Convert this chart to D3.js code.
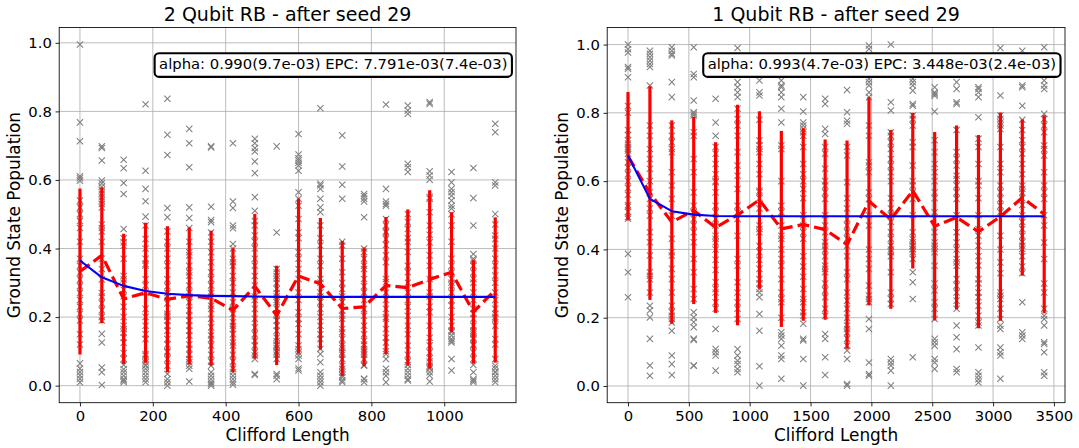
<!DOCTYPE html>
<html>
<head>
<meta charset="utf-8">
<script src="https://cdn.jsdelivr.net/npm/d3@7"></script>
<style>
body { margin: 0; background: #fff; }
svg text { font-family: "DejaVu Sans", sans-serif; fill: #000; }
</style>
</head>
<body>
<div id="chart"></div>
<script>
// ---- 2 qubit panel ----
var title2Q = "2 Qubit RB - after seed 29";
var label2Q = "alpha: 0.990(9.7e-03) EPC: 7.791e-03(7.4e-03)";
var lengths2Q = [0,60,120,180,240,300,360,420,480,540,600,660,720,780,840,900,960,1020,1080,1140];
var xticks2Q = [0,200,400,600,800,1000];
var mean2Q = [0.333,0.380,0.253,0.271,0.252,0.262,0.255,0.220,0.290,0.205,0.320,0.297,0.225,0.230,0.292,0.286,0.310,0.331,0.215,0.279];
var std2Q  = [0.242,0.198,0.190,0.204,0.213,0.200,0.197,0.181,0.211,0.145,0.226,0.192,0.197,0.173,0.200,0.228,0.260,0.175,0.151,0.212];
var fit2Q  = [0.365,0.316,0.291,0.276,0.268,0.264,0.262,0.261,0.260,0.259,0.259,0.259,0.259,0.259,0.259,0.259,0.259,0.259,0.259,0.259];
var seeds2Q = [
 [0.995,0.768,0.713,0.611,0.605,0.598,0.54,0.52,0.50,0.48,0.46,0.42,0.37,0.35,0.33,0.31,0.29,0.27,0.25,0.23,0.21,0.19,0.15,0.12,0.065,0.05,0.04,0.03,0.02,0.01],
 [0.698,0.693,0.657,0.598,0.59,0.58,0.57,0.56,0.55,0.54,0.53,0.52,0.47,0.46,0.45,0.42,0.37,0.34,0.31,0.27,0.26,0.24,0.22,0.20,0.19,0.151,0.126,0.053,0.039,0.002],
 [0.659,0.634,0.591,0.559,0.457,0.43,0.418,0.408,0.37,0.32,0.31,0.30,0.28,0.26,0.23,0.2,0.175,0.165,0.155,0.14,0.125,0.095,0.078,0.06,0.048,0.039,0.029,0.019,0.015,0.01],
 [0.821,0.627,0.574,0.538,0.493,0.467,0.428,0.4,0.37,0.355,0.35,0.31,0.292,0.272,0.224,0.2,0.175,0.15,0.136,0.092,0.087,0.078,0.068,0.06,0.058,0.049,0.039,0.029,0.019,0.01],
 [0.837,0.732,0.673,0.518,0.491,0.45,0.42,0.40,0.37,0.35,0.31,0.29,0.27,0.24,0.21,0.204,0.2,0.19,0.175,0.16,0.136,0.12,0.1,0.097,0.078,0.058,0.034,0.019,0.01,0.0],
 [0.749,0.707,0.637,0.52,0.489,0.46,0.42,0.389,0.38,0.35,0.33,0.321,0.292,0.272,0.26,0.243,0.22,0.204,0.19,0.175,0.16,0.146,0.12,0.107,0.09,0.078,0.068,0.058,0.049,0.012],
 [0.698,0.695,0.522,0.483,0.477,0.447,0.42,0.389,0.36,0.331,0.311,0.292,0.27,0.26,0.233,0.224,0.195,0.17,0.146,0.136,0.117,0.09,0.07,0.058,0.039,0.029,0.019,0.01,0.005,0.0],
 [0.707,0.537,0.518,0.467,0.459,0.413,0.4,0.37,0.36,0.35,0.32,0.30,0.272,0.243,0.224,0.21,0.185,0.175,0.165,0.15,0.126,0.117,0.09,0.07,0.049,0.039,0.029,0.019,0.01,0.003],
 [0.72,0.707,0.693,0.683,0.654,0.62,0.55,0.51,0.48,0.467,0.438,0.42,0.40,0.37,0.35,0.32,0.292,0.26,0.25,0.224,0.195,0.17,0.15,0.13,0.117,0.097,0.088,0.078,0.034,0.031],
 [0.698,0.447,0.34,0.33,0.32,0.311,0.3,0.282,0.27,0.26,0.25,0.243,0.224,0.21,0.204,0.19,0.175,0.16,0.14,0.13,0.12,0.117,0.11,0.1,0.097,0.09,0.078,0.034,0.029,0.019],
 [0.734,0.674,0.663,0.657,0.65,0.642,0.627,0.564,0.545,0.525,0.486,0.447,0.43,0.389,0.37,0.34,0.311,0.272,0.25,0.214,0.195,0.18,0.15,0.117,0.107,0.097,0.088,0.078,0.05,0.044],
 [0.809,0.589,0.584,0.574,0.545,0.52,0.506,0.467,0.43,0.409,0.37,0.35,0.311,0.3,0.272,0.26,0.243,0.224,0.2,0.175,0.15,0.136,0.107,0.092,0.068,0.039,0.029,0.019,0.01,0.0],
 [0.73,0.639,0.586,0.545,0.42,0.409,0.37,0.331,0.3,0.282,0.26,0.243,0.22,0.204,0.195,0.165,0.156,0.136,0.117,0.11,0.097,0.09,0.078,0.058,0.049,0.039,0.03,0.024,0.015,0.01],
 [0.559,0.553,0.545,0.537,0.491,0.40,0.39,0.37,0.35,0.34,0.311,0.29,0.272,0.25,0.224,0.204,0.175,0.15,0.13,0.12,0.107,0.1,0.097,0.09,0.078,0.06,0.058,0.02,0.019,0.01],
 [0.82,0.574,0.537,0.53,0.525,0.486,0.467,0.45,0.447,0.428,0.41,0.38,0.36,0.311,0.302,0.272,0.25,0.224,0.2,0.195,0.165,0.14,0.126,0.1,0.092,0.078,0.049,0.039,0.029,0.01],
 [0.817,0.803,0.793,0.647,0.637,0.623,0.5,0.477,0.457,0.43,0.42,0.39,0.35,0.331,0.3,0.272,0.25,0.23,0.204,0.175,0.15,0.117,0.09,0.07,0.06,0.049,0.039,0.029,0.019,0.015],
 [0.827,0.822,0.625,0.613,0.601,0.55,0.545,0.506,0.467,0.44,0.418,0.38,0.35,0.311,0.272,0.26,0.23,0.214,0.175,0.14,0.117,0.097,0.08,0.07,0.058,0.053,0.049,0.039,0.03,0.012],
 [0.623,0.593,0.574,0.564,0.554,0.54,0.525,0.517,0.5,0.467,0.42,0.37,0.35,0.33,0.311,0.3,0.292,0.272,0.25,0.233,0.2,0.175,0.16,0.156,0.146,0.136,0.13,0.126,0.078,0.044],
 [0.635,0.547,0.467,0.384,0.37,0.365,0.35,0.33,0.311,0.3,0.272,0.25,0.224,0.21,0.195,0.175,0.16,0.156,0.15,0.14,0.136,0.12,0.117,0.097,0.078,0.06,0.039,0.019,0.015,0.01],
 [0.764,0.739,0.593,0.584,0.501,0.47,0.438,0.428,0.4,0.37,0.35,0.321,0.3,0.272,0.25,0.224,0.21,0.2,0.195,0.175,0.136,0.12,0.078,0.058,0.05,0.04,0.039,0.029,0.019,0.01]
];

// ---- 1 qubit panel ----
var title1Q = "1 Qubit RB - after seed 29";
var label1Q = "alpha: 0.993(4.7e-03) EPC: 3.448e-03(2.4e-03)";
var lengths1Q = [0,180,360,540,720,900,1080,1260,1440,1620,1800,1980,2160,2340,2520,2700,2880,3060,3240,3420];
var xticks1Q = [0,500,1000,1500,2000,2500,3000,3500];
var mean1Q = [0.673,0.565,0.480,0.514,0.464,0.501,0.545,0.460,0.473,0.458,0.414,0.541,0.488,0.572,0.468,0.494,0.452,0.496,0.552,0.503];
var std1Q  = [0.188,0.313,0.298,0.274,0.250,0.323,0.260,0.287,0.282,0.264,0.305,0.305,0.262,0.228,0.276,0.269,0.283,0.305,0.229,0.290];
var fit1Q  = [0.675,0.548,0.512,0.502,0.498,0.497,0.497,0.497,0.497,0.497,0.497,0.497,0.497,0.497,0.497,0.497,0.497,0.497,0.497,0.497];
var seeds1Q = [
 [1.0,0.986,0.977,0.934,0.929,0.904,0.82,0.80,0.75,0.735,0.72,0.71,0.70,0.695,0.69,0.68,0.655,0.64,0.62,0.60,0.58,0.56,0.53,0.525,0.51,0.495,0.49,0.387,0.333,0.26],
 [0.982,0.973,0.963,0.953,0.943,0.934,0.88,0.763,0.733,0.694,0.665,0.636,0.6,0.567,0.548,0.52,0.499,0.45,0.421,0.382,0.333,0.323,0.313,0.274,0.235,0.221,0.201,0.138,0.06,0.03],
 [0.992,0.982,0.973,0.968,0.89,0.846,0.763,0.733,0.714,0.694,0.685,0.626,0.587,0.548,0.499,0.431,0.392,0.382,0.343,0.313,0.274,0.235,0.216,0.206,0.196,0.186,0.162,0.089,0.064,0.032],
 [0.992,0.914,0.904,0.836,0.802,0.797,0.792,0.743,0.733,0.665,0.626,0.567,0.528,0.509,0.489,0.47,0.45,0.421,0.372,0.333,0.284,0.255,0.216,0.201,0.187,0.172,0.138,0.135,0.06,0.059],
 [0.841,0.772,0.733,0.7,0.68,0.65,0.62,0.6,0.597,0.567,0.528,0.509,0.489,0.47,0.44,0.431,0.421,0.4,0.37,0.34,0.304,0.284,0.274,0.245,0.226,0.167,0.108,0.099,0.089,0.045],
 [0.99,0.89,0.875,0.86,0.846,0.812,0.782,0.763,0.733,0.685,0.646,0.616,0.577,0.528,0.509,0.489,0.44,0.372,0.352,0.304,0.274,0.245,0.226,0.196,0.108,0.089,0.074,0.064,0.05,0.04],
 [0.895,0.86,0.851,0.78,0.719,0.704,0.694,0.685,0.65,0.62,0.572,0.567,0.55,0.52,0.47,0.46,0.45,0.41,0.392,0.37,0.343,0.313,0.3,0.284,0.274,0.26,0.211,0.162,0.058,0.001],
 [0.895,0.88,0.875,0.86,0.846,0.812,0.772,0.704,0.694,0.6,0.528,0.509,0.47,0.44,0.431,0.4,0.372,0.352,0.313,0.274,0.255,0.245,0.2,0.157,0.148,0.138,0.118,0.089,0.079,0.021],
 [0.846,0.804,0.772,0.763,0.753,0.743,0.733,0.7,0.65,0.62,0.6,0.577,0.55,0.5,0.47,0.45,0.431,0.38,0.35,0.32,0.284,0.255,0.245,0.216,0.206,0.182,0.138,0.133,0.079,0.001],
 [0.841,0.826,0.753,0.738,0.7,0.68,0.636,0.6,0.587,0.567,0.548,0.5,0.47,0.45,0.421,0.411,0.4,0.38,0.352,0.343,0.333,0.3,0.28,0.26,0.226,0.206,0.152,0.138,0.084,0.032],
 [0.867,0.802,0.777,0.768,0.7,0.675,0.597,0.55,0.52,0.489,0.47,0.45,0.431,0.411,0.38,0.333,0.313,0.274,0.25,0.226,0.2,0.177,0.167,0.157,0.138,0.118,0.104,0.079,0.006,0.001],
 [0.997,0.987,0.929,0.919,0.899,0.89,0.88,0.86,0.846,0.763,0.733,0.655,0.646,0.626,0.567,0.548,0.5,0.47,0.4,0.372,0.343,0.294,0.265,0.255,0.245,0.196,0.167,0.069,0.035,0.03],
 [1.0,0.831,0.807,0.743,0.733,0.714,0.694,0.665,0.646,0.626,0.6,0.55,0.52,0.5,0.48,0.45,0.431,0.411,0.4,0.392,0.38,0.333,0.274,0.255,0.24,0.079,0.069,0.06,0.045,0.001],
 [0.899,0.89,0.88,0.865,0.826,0.821,0.792,0.782,0.763,0.714,0.7,0.646,0.6,0.587,0.567,0.548,0.5,0.45,0.43,0.421,0.411,0.41,0.401,0.4,0.392,0.372,0.333,0.304,0.255,0.084],
 [0.875,0.86,0.855,0.85,0.804,0.72,0.685,0.65,0.626,0.6,0.567,0.55,0.509,0.45,0.42,0.411,0.401,0.392,0.352,0.3,0.28,0.245,0.226,0.196,0.138,0.128,0.118,0.079,0.069,0.05],
 [0.89,0.87,0.831,0.826,0.75,0.685,0.665,0.646,0.616,0.606,0.587,0.567,0.548,0.5,0.45,0.42,0.4,0.372,0.362,0.352,0.313,0.294,0.274,0.25,0.226,0.177,0.143,0.108,0.05,0.04],
 [0.875,0.87,0.86,0.846,0.787,0.724,0.7,0.65,0.6,0.587,0.55,0.5,0.46,0.44,0.411,0.38,0.353,0.313,0.3,0.274,0.26,0.235,0.206,0.186,0.177,0.113,0.04,0.03,0.02,0.01],
 [0.99,0.851,0.792,0.782,0.772,0.763,0.753,0.7,0.65,0.626,0.587,0.567,0.548,0.528,0.509,0.44,0.4,0.362,0.33,0.274,0.265,0.255,0.226,0.196,0.177,0.167,0.113,0.099,0.089,0.021],
 [0.982,0.88,0.875,0.821,0.78,0.75,0.72,0.7,0.68,0.65,0.62,0.587,0.577,0.567,0.55,0.53,0.5,0.48,0.46,0.44,0.421,0.411,0.401,0.38,0.35,0.33,0.245,0.157,0.148,0.138],
 [0.992,0.895,0.88,0.87,0.797,0.782,0.763,0.743,0.704,0.694,0.675,0.626,0.587,0.567,0.548,0.5,0.47,0.42,0.372,0.3,0.274,0.226,0.206,0.196,0.177,0.128,0.123,0.099,0.04,0.03]
];

var yticks = [0,0.2,0.4,0.6,0.8,1.0];

var width = 1079, height = 448;
var plotTop = 27.5, plotBottom = 402.7;
var tickFont = 14.8, labelFont = 16.9, titleFont = 19;

var svg = d3.select("#chart").append("svg")
	.attr("width", width)
	.attr("height", height);

// 5% margin like matplotlib autoscale
function padded(vals){
	var e = d3.extent(vals), m = (e[1]-e[0])*0.05;
	return [e[0]-m, e[1]+m];
}

function drawPanel(p){
	var x = d3.scaleLinear().domain(padded(p.lengths)).range([p.left, p.right]);
	var allY = d3.merge(p.seeds)
		.concat(p.mean.map(function(m,i){return m+p.std[i]}))
		.concat(p.mean.map(function(m,i){return m-p.std[i]}));
	var y = d3.scaleLinear().domain(padded(allY)).range([plotBottom, plotTop]);

	var g = svg.append("g");

	// grid
	g.selectAll(".gx").data(p.xticks).enter().append("line")
		.attr("x1", function(d){return x(d)}).attr("x2", function(d){return x(d)})
		.attr("y1", plotTop).attr("y2", plotBottom)
		.style("stroke", "#b0b0b0").style("stroke-width", 0.85);
	g.selectAll(".gy").data(yticks).enter().append("line")
		.attr("x1", p.left).attr("x2", p.right)
		.attr("y1", function(d){return y(d)}).attr("y2", function(d){return y(d)})
		.style("stroke", "#b0b0b0").style("stroke-width", 0.85);

	// seed points as x markers
	var pts = [];
	p.seeds.forEach(function(col, i){
		col.forEach(function(v){ pts.push([p.lengths[i], v]); });
	});
	var s = 3.15;
	g.selectAll(".pt").data(pts).enter().append("path")
		.attr("d", "M"+(-s)+","+(-s)+"L"+s+","+s+"M"+(-s)+","+s+"L"+s+","+(-s))
		.attr("transform", function(d){return "translate("+x(d[0])+","+y(d[1])+")"})
		.style("stroke", "#808080").style("stroke-width", 1.06).style("fill", "none");

	// error bars
	g.selectAll(".eb").data(p.lengths).enter().append("line")
		.attr("x1", function(d){return x(d)}).attr("x2", function(d){return x(d)})
		.attr("y1", function(d,i){return y(p.mean[i]-p.std[i])})
		.attr("y2", function(d,i){return y(p.mean[i]+p.std[i])})
		.style("stroke", "red").style("stroke-width", 3.2);

	// mean, dashed
	var line = d3.line().x(function(d){return x(d[0])}).y(function(d){return y(d[1])});
	g.append("path")
		.attr("d", line(p.lengths.map(function(d,i){return [d, p.mean[i]]})))
		.style("fill", "none").style("stroke", "red").style("stroke-width", 3.2)
		.style("stroke-dasharray", "11.8,5.1").style("stroke-linejoin", "round");

	// fit
	g.append("path")
		.attr("d", line(p.lengths.map(function(d,i){return [d, p.fit[i]]})))
		.style("fill", "none").style("stroke", "blue").style("stroke-width", 2.1)
		.style("stroke-linejoin", "round");

	// axes
	var xAxis = d3.axisBottom(x).tickValues(p.xticks).tickSize(3.7).tickPadding(3.7).tickFormat(d3.format("d"));
	var yAxis = d3.axisLeft(y).tickValues(yticks).tickSize(3.7).tickPadding(3.7).tickFormat(d3.format(".1f"));
	var gx = g.append("g").attr("transform", "translate(0,"+plotBottom+")").call(xAxis);
	var gy = g.append("g").attr("transform", "translate("+p.left+",0)").call(yAxis);
	[gx, gy].forEach(function(a){
		a.select(".domain").remove();
		a.attr("font-family", null).attr("font-size", null);
		a.selectAll("line").style("stroke", "#000").style("stroke-width", 0.85);
		a.selectAll("text").style("font-size", tickFont+"px");
	});

	// frame
	g.append("rect")
		.attr("x", p.left).attr("y", plotTop)
		.attr("width", p.right-p.left).attr("height", plotBottom-plotTop)
		.style("fill", "none").style("stroke", "#000").style("stroke-width", 0.85);

	// labels
	var cx = (p.left+p.right)/2;
	g.append("text").attr("x", cx).attr("y", 21.2)
		.style("text-anchor", "middle").style("font-size", titleFont+"px")
		.text(p.title);
	g.append("text").attr("x", cx).attr("y", 441.4)
		.style("text-anchor", "middle").style("font-size", labelFont+"px")
		.text("Clifford Length");
	g.append("text")
		.attr("transform", "translate("+(p.left-39.1)+","+((plotTop+plotBottom)/2)+") rotate(-90)")
		.style("text-anchor", "middle").style("font-size", labelFont+"px")
		.text("Ground State Population");

	// fit result box
	var bx = p.left + 0.6*(p.right-p.left), by = plotBottom - 0.9*(plotBottom-plotTop);
	var box = g.append("rect");
	var t = g.append("text").attr("x", bx).attr("y", by + 0.262*tickFont)
		.style("text-anchor", "middle").style("font-size", tickFont+"px")
		.text(p.label);
	var tw = t.node().getComputedTextLength(), th = 0.996*tickFont, pad = 0.3*tickFont;
	box.attr("x", bx - tw/2 - pad).attr("y", by - th/2 - pad)
		.attr("width", tw + 2*pad).attr("height", th + 2*pad)
		.attr("rx", pad).attr("ry", pad)
		.style("fill", "#fff").style("stroke", "#000").style("stroke-width", 2.1);
}

drawPanel({left: 59.2, right: 516, lengths: lengths2Q, seeds: seeds2Q, mean: mean2Q, std: std2Q,
	fit: fit2Q, xticks: xticks2Q, title: title2Q, label: label2Q});
drawPanel({left: 607.2, right: 1065, lengths: lengths1Q, seeds: seeds1Q, mean: mean1Q, std: std1Q,
	fit: fit1Q, xticks: xticks1Q, title: title1Q, label: label1Q});
</script>
</body>
</html>
